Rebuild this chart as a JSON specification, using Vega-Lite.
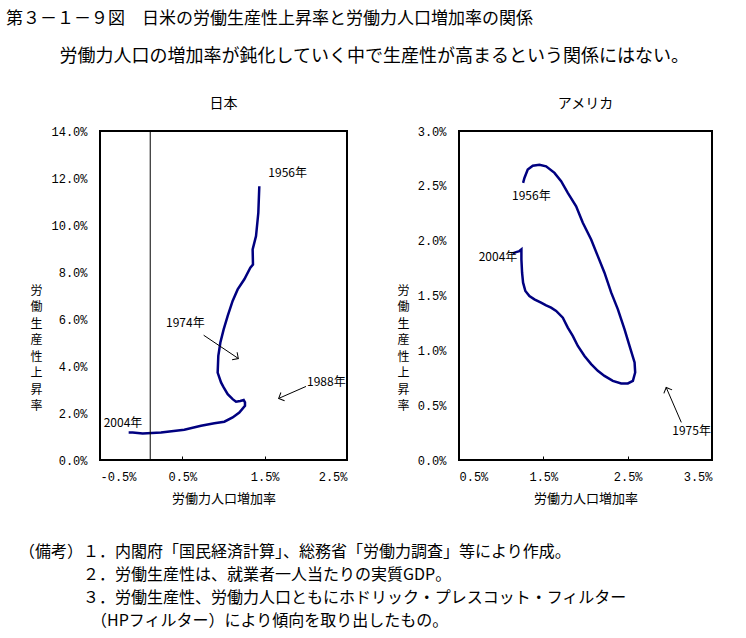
{
  "$schema": "https://vega.github.io/schema/vega-lite/v6.json",
  "padding": {"left": 5, "top": 10, "right": 5, "bottom": 5},
  "background": "white",
  "config": {
    "font": "Noto Sans CJK JP",
    "view": {"stroke": "#000", "strokeWidth": 2},
    "axis": {"grid": false, "domain": false, "labelFont": "Liberation Mono", "labelFontSize": 12, "labelColor": "#000", "titleColor": "#000", "titleFontWeight": "normal", "titleFont": "Noto Sans CJK JP", "tickColor": "#000"},
    "title": {"fontWeight": "normal", "color": "#000"}
  },
  "datasets": {
    "jp_line": [
      {"i": 1, "x": 1.435, "y": 11.65}, {"i": 2, "x": 1.423, "y": 10.52}, {"i": 3, "x": 1.395, "y": 9.53},
      {"i": 4, "x": 1.354, "y": 8.96}, {"i": 5, "x": 1.358, "y": 8.32}, {"i": 6, "x": 1.326, "y": 8.18},
      {"i": 7, "x": 1.253, "y": 7.69}, {"i": 8, "x": 1.172, "y": 7.26}, {"i": 9, "x": 1.111, "y": 6.77},
      {"i": 10, "x": 1.051, "y": 6.13}, {"i": 11, "x": 1.002, "y": 5.56}, {"i": 12, "x": 0.962, "y": 5.0},
      {"i": 13, "x": 0.937, "y": 4.43}, {"i": 14, "x": 0.929, "y": 3.72}, {"i": 15, "x": 0.97, "y": 3.3},
      {"i": 16, "x": 1.002, "y": 3.09}, {"i": 17, "x": 1.051, "y": 2.8}, {"i": 18, "x": 1.111, "y": 2.59},
      {"i": 19, "x": 1.152, "y": 2.48}, {"i": 20, "x": 1.204, "y": 2.51}, {"i": 21, "x": 1.245, "y": 2.55},
      {"i": 22, "x": 1.261, "y": 2.45}, {"i": 23, "x": 1.261, "y": 2.31}, {"i": 24, "x": 1.192, "y": 2.02},
      {"i": 25, "x": 1.111, "y": 1.81}, {"i": 26, "x": 1.01, "y": 1.63}, {"i": 27, "x": 0.889, "y": 1.56},
      {"i": 28, "x": 0.727, "y": 1.46}, {"i": 29, "x": 0.524, "y": 1.29}, {"i": 30, "x": 0.241, "y": 1.17},
      {"i": 31, "x": 0.018, "y": 1.13}, {"i": 32, "x": -0.103, "y": 1.17}, {"i": 33, "x": -0.152, "y": 1.17}
    ],
    "jp_ref": [{"x": 0.11}],
    "us_line": [
      {"i": 1, "x": 1.26, "y": 2.527}, {"i": 2, "x": 1.276, "y": 2.572}, {"i": 3, "x": 1.315, "y": 2.648},
      {"i": 4, "x": 1.375, "y": 2.684}, {"i": 5, "x": 1.454, "y": 2.693}, {"i": 6, "x": 1.533, "y": 2.678},
      {"i": 7, "x": 1.632, "y": 2.618}, {"i": 8, "x": 1.711, "y": 2.542}, {"i": 9, "x": 1.79, "y": 2.436},
      {"i": 10, "x": 1.889, "y": 2.314}, {"i": 11, "x": 1.968, "y": 2.163}, {"i": 12, "x": 2.067, "y": 2.011},
      {"i": 13, "x": 2.146, "y": 1.859}, {"i": 14, "x": 2.225, "y": 1.708}, {"i": 15, "x": 2.305, "y": 1.526},
      {"i": 16, "x": 2.384, "y": 1.374}, {"i": 17, "x": 2.463, "y": 1.192}, {"i": 18, "x": 2.522, "y": 1.04},
      {"i": 19, "x": 2.582, "y": 0.889}, {"i": 20, "x": 2.589, "y": 0.798}, {"i": 21, "x": 2.562, "y": 0.722},
      {"i": 22, "x": 2.502, "y": 0.698}, {"i": 23, "x": 2.423, "y": 0.698}, {"i": 24, "x": 2.324, "y": 0.722},
      {"i": 25, "x": 2.225, "y": 0.767}, {"i": 26, "x": 2.146, "y": 0.813}, {"i": 27, "x": 2.067, "y": 0.874},
      {"i": 28, "x": 1.988, "y": 0.949}, {"i": 29, "x": 1.909, "y": 1.04}, {"i": 30, "x": 1.849, "y": 1.131},
      {"i": 31, "x": 1.79, "y": 1.207}, {"i": 32, "x": 1.731, "y": 1.298}, {"i": 33, "x": 1.652, "y": 1.359},
      {"i": 34, "x": 1.592, "y": 1.389}, {"i": 35, "x": 1.533, "y": 1.41}, {"i": 36, "x": 1.473, "y": 1.435},
      {"i": 37, "x": 1.394, "y": 1.465}, {"i": 38, "x": 1.335, "y": 1.495}, {"i": 39, "x": 1.287, "y": 1.541},
      {"i": 40, "x": 1.26, "y": 1.617}, {"i": 41, "x": 1.248, "y": 1.708}, {"i": 42, "x": 1.24, "y": 1.829},
      {"i": 43, "x": 1.24, "y": 1.92}, {"i": 44, "x": 1.216, "y": 1.905}, {"i": 45, "x": 1.177, "y": 1.896},
      {"i": 46, "x": 1.137, "y": 1.884}
    ],
    "jp_labels": [
      {"label": "1956年", "x": 1.545, "y": 12.22},
      {"label": "1974年", "x": 0.302, "y": 5.82},
      {"label": "1988年", "x": 2.014, "y": 3.3},
      {"label": "2004年", "x": -0.455, "y": 1.57}
    ],
    "us_labels": [
      {"label": "1956年", "x": 1.129, "y": 2.405},
      {"label": "2004年", "x": 0.733, "y": 1.853},
      {"label": "1975年", "x": 3.029, "y": 0.267}
    ],
    "jp_arrows": [
      {"label": "1974年", "x": 0.759, "y": 5.31, "x2": 1.18, "y2": 4.32},
      {"label": "1988年", "x": 2.002, "y": 3.13, "x2": 1.67, "y2": 2.62}
    ],
    "us_arrows": [
      {"label": "1975年", "x": 3.136, "y": 0.343, "x2": 2.957, "y2": 0.661}
    ]
  },
  "title": {
    "text": "第３－１－９図　日米の労働生産性上昇率と労働力人口増加率の関係",
    "anchor": "start", "frame": "bounds", "fontSize": 17, "dx": -13, "offset": 20
  },
  "vconcat": [
    {
      "title": {
        "text": [
          "（備考）１．内閣府「国民経済計算」、総務省「労働力調査」等により作成。",
          "\u200b　　　　２．労働生産性は、就業者一人当たりの実質GDP。",
          "\u200b　　　　３．労働生産性、労働力人口ともにホドリック・プレスコット・フィルター",
          "\u200b　　　　　（HPフィルター）により傾向を取り出したもの。"
        ],
        "orient": "bottom", "anchor": "start", "frame": "bounds", "fontSize": 16, "lineHeight": 23, "offset": 38, "dx": -10
      },
      "vconcat": [
        {
          "title": {"text": "労働力人口の増加率が鈍化していく中で生産性が高まるという関係にはない。", "anchor": "middle", "frame": "bounds", "fontSize": 18, "offset": 30, "dx": 3},
          "bounds": "flush",
          "spacing": 112,
          "hconcat": [
            {
              "width": 247, "height": 329,
              "title": {"text": "日本", "fontSize": 14, "offset": 14},
              "layer": [
                {
                  "data": {"name": "jp_line"},
                  "mark": {"type": "line", "color": "#000080", "strokeWidth": 2.5},
                  "encoding": {
                    "x": {"field": "x", "type": "quantitative", "scale": {"domain": [-0.5, 2.5], "nice": false, "zero": false},
                      "axis": {"values": [-0.5, 0.5, 1.5, 2.5], "labelExpr": "replace(format(datum.value,'.1f'),'−','-')+'%'", "title": "労働力人口増加率", "titleFontSize": 13, "titlePadding": 10, "tickSize": -4, "labelPadding": 15}},
                    "y": {"field": "y", "type": "quantitative", "scale": {"domain": [0, 14], "nice": false},
                      "axis": {"values": [0, 2, 4, 6, 8, 10, 12, 14], "labelExpr": "format(datum.value,'.1f')+'%'", "ticks": false, "labelPadding": 13,
                        "title": ["労", "働", "生", "産", "性", "上", "昇", "率"], "titleAngle": 0, "titleX": -64, "titleY": 159, "titleAlign": "center", "titleBaseline": "middle", "titleLineHeight": 16.5, "titleFontSize": 12}},
                    "order": {"field": "i", "type": "quantitative"}
                  }
                },
                {
                  "data": {"name": "jp_ref"},
                  "mark": {"type": "rule", "color": "#000", "strokeWidth": 1},
                  "encoding": {"x": {"field": "x", "type": "quantitative"}}
                },
                {
                  "data": {"name": "jp_labels"},
                  "mark": {"type": "text", "align": "left", "baseline": "middle", "fontSize": 12, "color": "#000"},
                  "encoding": {"x": {"field": "x", "type": "quantitative"}, "y": {"field": "y", "type": "quantitative"}, "text": {"field": "label"}}
                },
                {
                  "data": {"name": "jp_arrows"},
                  "mark": {"type": "rule", "color": "#000", "strokeWidth": 1},
                  "encoding": {"x": {"field": "x", "type": "quantitative"}, "y": {"field": "y", "type": "quantitative"}, "x2": {"field": "x2"}, "y2": {"field": "y2"}}
                },
                {
                  "data": {"name": "jp_arrows"},
                  "transform": [{"filter": "datum.label == '1974年'"}],
                  "mark": {"type": "point", "shape": "M-1,-1L0,0L-1,1", "filled": false, "color": "#000", "strokeWidth": 1, "size": 80, "angle": 34, "opacity": 1},
                  "encoding": {"x": {"field": "x2", "type": "quantitative"}, "y": {"field": "y2", "type": "quantitative"}}
                },
                {
                  "data": {"name": "jp_arrows"},
                  "transform": [{"filter": "datum.label == '1988年'"}],
                  "mark": {"type": "point", "shape": "M-1,-1L0,0L-1,1", "filled": false, "color": "#000", "strokeWidth": 1, "size": 80, "angle": 156, "opacity": 1},
                  "encoding": {"x": {"field": "x2", "type": "quantitative"}, "y": {"field": "y2", "type": "quantitative"}}
                }
              ]
            },
            {
              "width": 253, "height": 329,
              "title": {"text": "アメリカ", "fontSize": 14, "offset": 14},
              "layer": [
                {
                  "data": {"name": "us_line"},
                  "mark": {"type": "line", "color": "#000080", "strokeWidth": 2.5},
                  "encoding": {
                    "x": {"field": "x", "type": "quantitative", "scale": {"domain": [0.5, 3.5], "nice": false, "zero": false},
                      "axis": {"values": [0.5, 1.5, 2.5, 3.5], "labelExpr": "format(datum.value,'.1f')+'%'", "title": "労働力人口増加率", "titleFontSize": 13, "titlePadding": 10, "tickSize": -4, "labelPadding": 15}},
                    "y": {"field": "y", "type": "quantitative", "scale": {"domain": [0, 3], "nice": false},
                      "axis": {"values": [0, 0.5, 1, 1.5, 2, 2.5, 3], "labelExpr": "format(datum.value,'.1f')+'%'", "ticks": false, "labelPadding": 13,
                        "title": ["労", "働", "生", "産", "性", "上", "昇", "率"], "titleAngle": 0, "titleX": -56, "titleY": 159, "titleAlign": "center", "titleBaseline": "middle", "titleLineHeight": 16.5, "titleFontSize": 12}},
                    "order": {"field": "i", "type": "quantitative"}
                  }
                },
                {
                  "data": {"name": "us_labels"},
                  "mark": {"type": "text", "align": "left", "baseline": "middle", "fontSize": 12, "color": "#000"},
                  "encoding": {"x": {"field": "x", "type": "quantitative"}, "y": {"field": "y", "type": "quantitative"}, "text": {"field": "label"}}
                },
                {
                  "data": {"name": "us_arrows"},
                  "mark": {"type": "rule", "color": "#000", "strokeWidth": 1},
                  "encoding": {"x": {"field": "x", "type": "quantitative"}, "y": {"field": "y", "type": "quantitative"}, "x2": {"field": "x2"}, "y2": {"field": "y2"}}
                },
                {
                  "data": {"name": "us_arrows"},
                  "mark": {"type": "point", "shape": "M-1,-1L0,0L-1,1", "filled": false, "color": "#000", "strokeWidth": 1, "size": 80, "angle": -113, "opacity": 1},
                  "encoding": {"x": {"field": "x2", "type": "quantitative"}, "y": {"field": "y2", "type": "quantitative"}}
                }
              ]
            }
          ]
        }
      ]
    }
  ]
}
